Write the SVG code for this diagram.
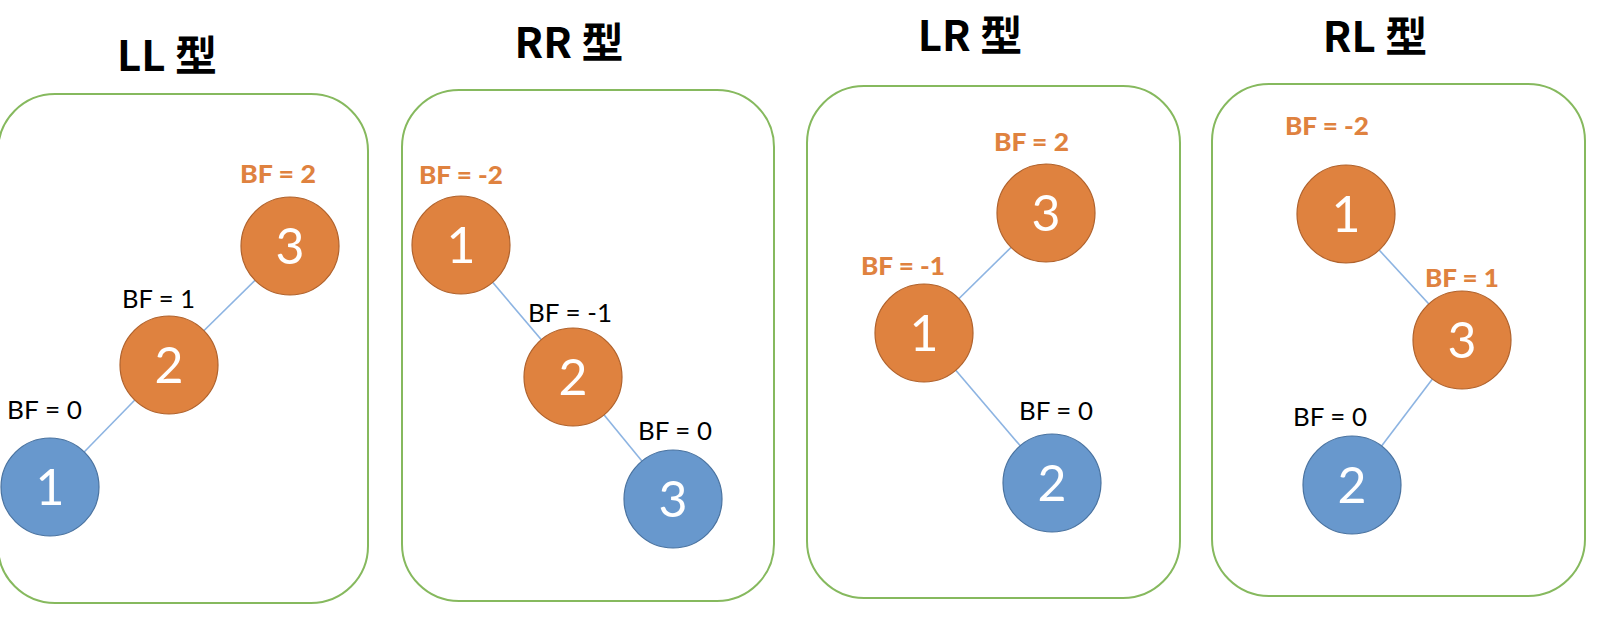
<svg xmlns="http://www.w3.org/2000/svg" width="1612" height="644" viewBox="0 0 1612 644">
<style>
.box{fill:none;stroke:#86B95E;stroke-width:2}
.title{font-family:"Noto Sans CJK SC","Liberation Sans",sans-serif;font-weight:bold;font-size:42px;fill:#000;text-anchor:middle}
.edge{stroke:#8DB4E2;stroke-width:1.6}
.or{fill:#DF823F;stroke:#B0622C;stroke-width:1.2}
.bl{fill:#6898CD;stroke:#4A73A0;stroke-width:1.2}
.num{font-family:Lato,"Open Sans",sans-serif;font-weight:normal;font-size:50px;fill:#fff;text-anchor:middle}
.bf{font-family:Lato,"Open Sans",sans-serif;font-size:25px;fill:#000}
.bfo{font-family:Lato,"Open Sans",sans-serif;font-size:25px;font-weight:900;fill:#DF823F}
</style>
<rect width="1612" height="644" fill="#fff"/>
<g id="panels">
<g id="panel-LL"><rect class="box" x="-2" y="94" width="370" height="509" rx="57"/><text class="title" x="167" y="71">LL 型</text></g>
<g id="panel-RR"><rect class="box" x="402" y="90" width="372" height="511" rx="57"/><text class="title" x="569" y="58">RR 型</text></g>
<g id="panel-LR"><rect class="box" x="807" y="86" width="373" height="512" rx="57"/><text class="title" x="970" y="51">LR 型</text></g>
<g id="panel-RL"><rect class="box" x="1212" y="84" width="373" height="512" rx="57"/><text class="title" x="1375" y="52">RL 型</text></g>
</g>
<g id="connectors">
<line class="edge" x1="50" y1="487" x2="169" y2="365"/>
<line class="edge" x1="169" y1="365" x2="290" y2="246"/>
<line class="edge" x1="461" y1="245" x2="573" y2="377"/>
<line class="edge" x1="573" y1="377" x2="673" y2="499"/>
<line class="edge" x1="1046" y1="213" x2="924" y2="333"/>
<line class="edge" x1="924" y1="333" x2="1052" y2="483"/>
<line class="edge" x1="1346" y1="214" x2="1462" y2="340"/>
<line class="edge" x1="1462" y1="340" x2="1352" y2="485"/>
</g>
<g id="LL-3"><circle class="or" cx="290" cy="246" r="49"/><text class="num" x="290" y="264">3</text><text class="bfo" x="240" y="183" textLength="76" lengthAdjust="spacingAndGlyphs">BF = 2</text></g>
<g id="LL-2"><circle class="or" cx="169" cy="365" r="49"/><text class="num" x="169" y="383">2</text><text class="bf" x="122" y="308" textLength="73" lengthAdjust="spacingAndGlyphs">BF = 1</text></g>
<g id="LL-1"><circle class="bl" cx="50" cy="487" r="49"/><text class="num" x="50" y="505">1</text><text class="bf" x="7" y="419" textLength="75" lengthAdjust="spacingAndGlyphs">BF = 0</text></g>
<g id="RR-1"><circle class="or" cx="461" cy="245" r="49"/><text class="num" x="461" y="263">1</text><text class="bfo" x="419" y="184" textLength="84" lengthAdjust="spacingAndGlyphs">BF = -2</text></g>
<g id="RR-2"><circle class="or" cx="573" cy="377" r="49"/><text class="num" x="573" y="395">2</text><text class="bf" x="528" y="322" textLength="84" lengthAdjust="spacingAndGlyphs">BF = -1</text></g>
<g id="RR-3"><circle class="bl" cx="673" cy="499" r="49"/><text class="num" x="673" y="517">3</text><text class="bf" x="638" y="440" textLength="74" lengthAdjust="spacingAndGlyphs">BF = 0</text></g>
<g id="LR-3"><circle class="or" cx="1046" cy="213" r="49"/><text class="num" x="1046" y="231">3</text><text class="bfo" x="994" y="151" textLength="75" lengthAdjust="spacingAndGlyphs">BF = 2</text></g>
<g id="LR-1"><circle class="or" cx="924" cy="333" r="49"/><text class="num" x="924" y="351">1</text><text class="bfo" x="861" y="275" textLength="84" lengthAdjust="spacingAndGlyphs">BF = -1</text></g>
<g id="LR-2"><circle class="bl" cx="1052" cy="483" r="49"/><text class="num" x="1052" y="501">2</text><text class="bf" x="1019" y="420" textLength="74" lengthAdjust="spacingAndGlyphs">BF = 0</text></g>
<g id="RL-1"><circle class="or" cx="1346" cy="214" r="49"/><text class="num" x="1346" y="232">1</text><text class="bfo" x="1285" y="135" textLength="84" lengthAdjust="spacingAndGlyphs">BF = -2</text></g>
<g id="RL-3"><circle class="or" cx="1462" cy="340" r="49"/><text class="num" x="1462" y="358">3</text><text class="bfo" x="1425" y="287" textLength="74" lengthAdjust="spacingAndGlyphs">BF = 1</text></g>
<g id="RL-2"><circle class="bl" cx="1352" cy="485" r="49"/><text class="num" x="1352" y="503">2</text><text class="bf" x="1293" y="426" textLength="74" lengthAdjust="spacingAndGlyphs">BF = 0</text></g>
</svg>
